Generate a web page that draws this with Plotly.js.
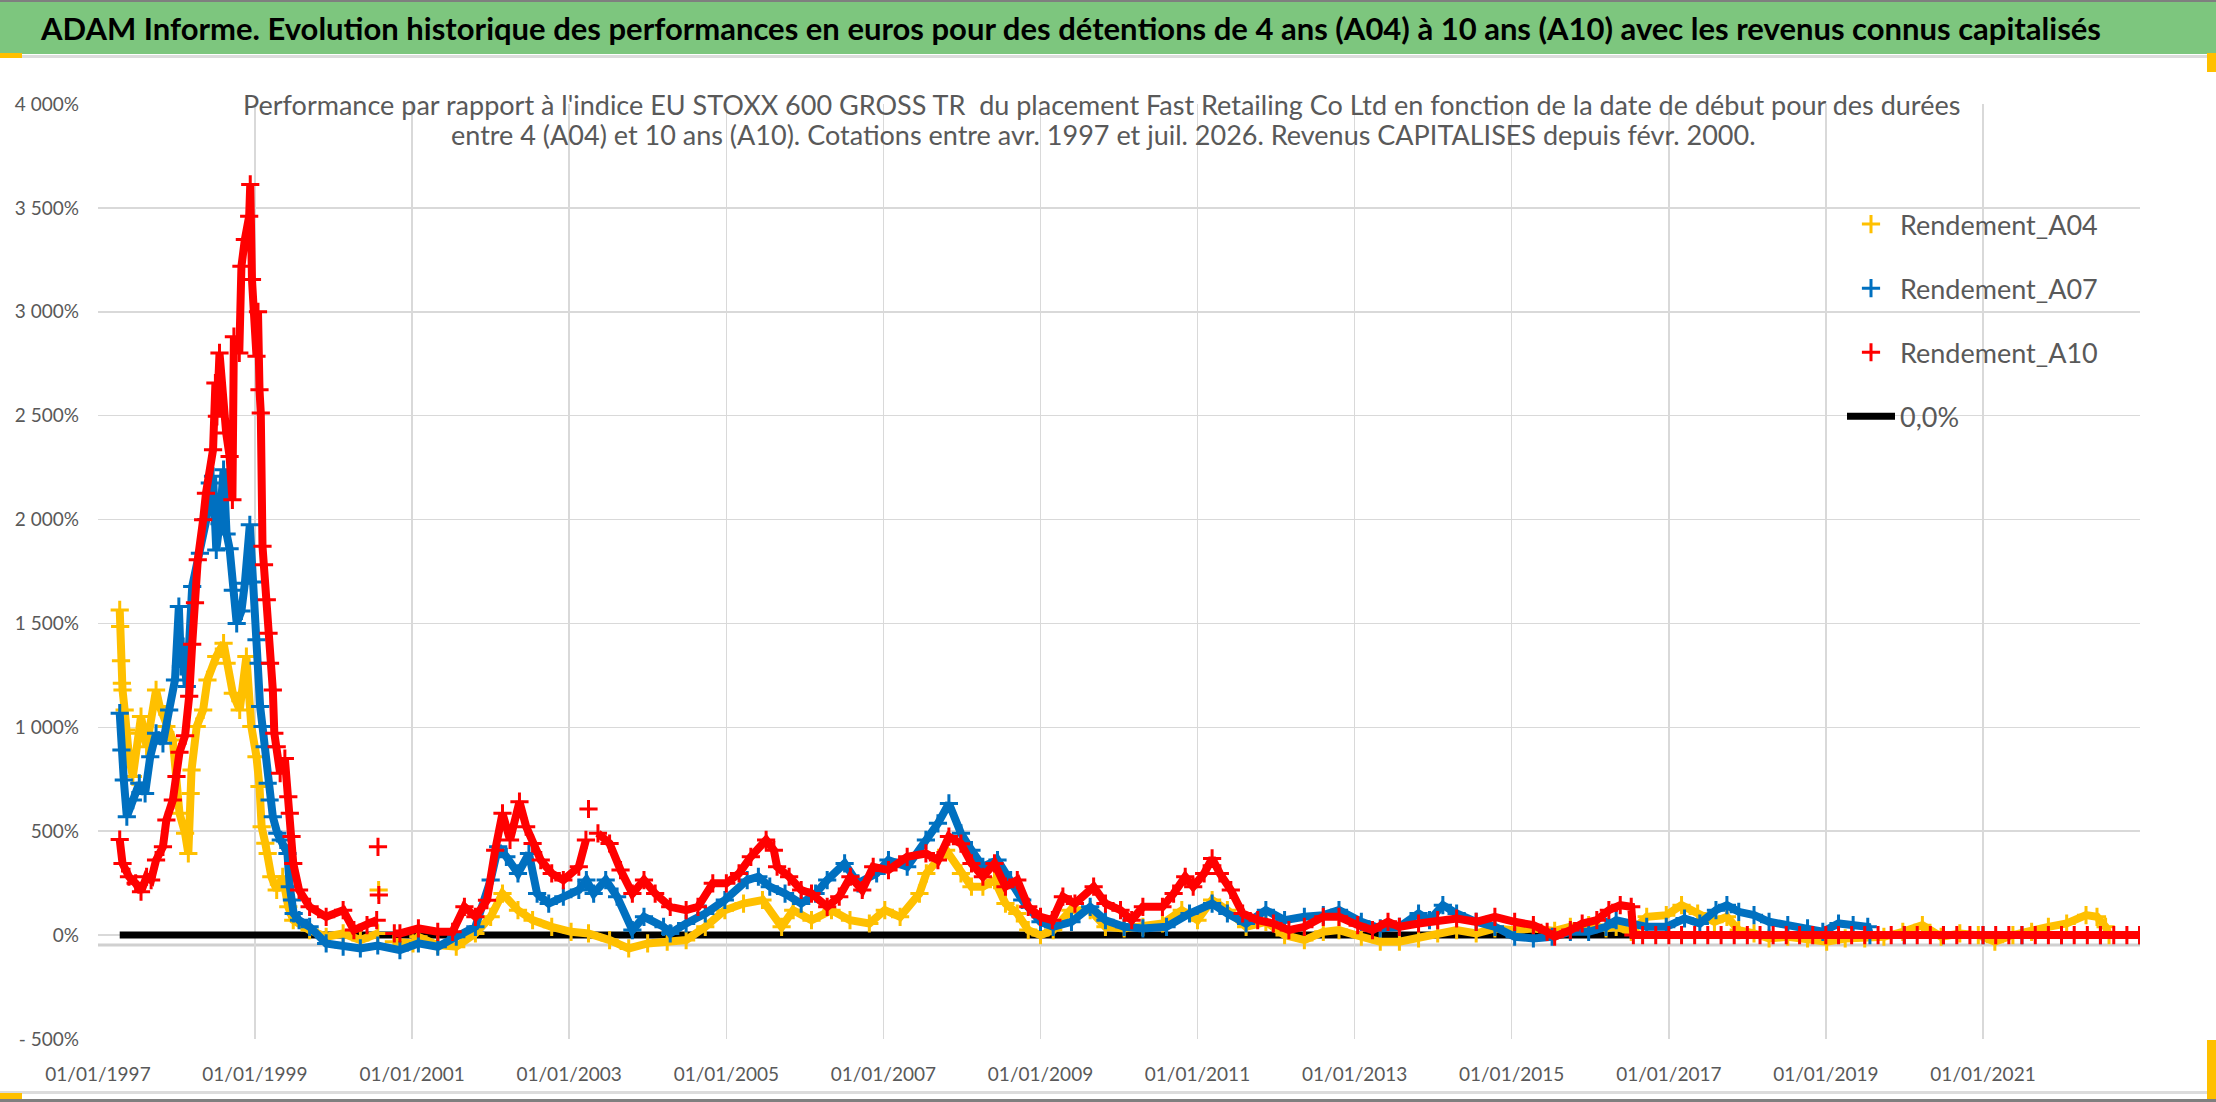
<!DOCTYPE html>
<html>
<head>
<meta charset="utf-8">
<script src="https://cdn.plot.ly/plotly-3.0.1.min.js"></script>
<style>
  html, body { margin: 0; padding: 0; background: #ffffff; }
  #perfPlot { width: 2216px; height: 1102px; }
</style>
</head>
<body>
<div id="perfPlot"></div>
<script>
// values, in percent
const datesA04 = [
  "1997-04-12","1997-04-14","1997-04-18","1997-04-22","1997-04-25","1997-05-05","1997-05-12","1997-05-25","1997-06-12","1997-07-12","1997-07-20","1997-08-15","1997-09-28","1997-10-15","1997-11-15","1997-12-15",
  "1998-01-15","1998-02-10","1998-02-25","1998-03-08","1998-03-12","1998-04-05","1998-05-05","1998-05-25","1998-07-05","1998-08-08","1998-08-22","1998-09-20","1998-10-22","1998-11-22","1998-12-15",
  "1999-01-08","1999-01-22","1999-02-01","1999-02-18","1999-03-01","1999-03-18","1999-04-12","1999-05-10","1999-06-05","1999-06-28","1999-09-12","1999-11-28",
  "2000-02-15","2000-05-05","2000-07-25","2000-07-27","2000-07-29","2000-07-31","2000-10-08",
  "2001-01-05","2001-01-30","2001-04-30","2001-07-25","2001-10-22",
  "2002-01-01","2002-02-25","2002-05-08","2002-07-15","2002-10-12",
  "2003-01-10","2003-04-01","2003-07-08","2003-10-05",
  "2004-01-01","2004-04-01","2004-06-28","2004-09-25","2004-12-25",
  "2005-03-22","2005-06-18","2005-09-15","2005-11-08",
  "2006-02-01","2006-05-05","2006-07-30","2006-10-28",
  "2007-01-08","2007-03-20","2007-06-18","2007-07-20","2007-10-20","2007-12-28",
  "2008-02-15","2008-04-08","2008-06-01","2008-07-22","2008-09-15","2008-11-05",
  "2009-01-01","2009-03-01","2009-05-20","2009-08-20","2009-10-30",
  "2010-01-25","2010-04-22","2010-07-22","2010-10-20",
  "2011-01-01","2011-03-10","2011-05-20","2011-08-15","2011-11-15",
  "2012-02-10","2012-05-12","2012-08-08","2012-10-20",
  "2013-02-01","2013-04-30","2013-07-28","2013-10-25",
  "2014-01-22","2014-04-20","2014-07-20","2014-10-15",
  "2015-01-15","2015-04-12","2015-07-20","2015-10-01","2015-12-25",
  "2016-03-15","2016-05-01","2016-07-10","2016-09-20","2016-12-20",
  "2017-03-01","2017-05-15","2017-08-01","2017-09-28","2017-11-22",
  "2018-02-01","2018-04-12","2018-07-08","2018-10-08",
  "2019-01-05","2019-04-01","2019-07-01","2019-09-28","2019-12-25",
  "2020-03-25","2020-06-20","2020-09-15","2020-12-10",
  "2021-02-25","2021-05-20","2021-08-15","2021-11-01",
  "2022-01-25","2022-04-25","2022-06-15","2022-07-25","2022-08-10","2022-12-30"
];
const valsA04 = [
  1565,1485,1320,1212,1180,1084,987,859,763,971,1052,907,1180,1100,1004,939,
  586,490,393,682,795,1004,1084,1228,1341,1405,1309,1164,1084,1341,1004,
  859,715,522,442,393,281,217,281,136,72,24,-8,
  8,-24,8,null,217,null,-32,
  -40,-8,-48,-56,8,
  88,200,120,72,40,
  16,8,-24,-64,
  -40,-32,-24,40,120,
  152,169,40,120,
  72,120,72,56,
  120,88,200,297,409,297,
  233,233,265,152,104,24,
  0,24,120,120,40,
  32,40,56,120,
  72,169,120,40,64,
  0,-24,16,24,
  -8,-32,-32,-16,
  8,24,8,32,
  24,32,20,40,48,
  32,40,16,88,96,
  144,104,64,88,24,
  8,-16,-8,-16,
  -32,-16,-16,-8,16,
  48,-8,8,0,
  -32,0,16,40,
  56,96,88,40,0,0
];

const datesA07 = [
  "1997-04-12","1997-04-20","1997-05-01","1997-05-15","1997-06-12","1997-07-12","1997-08-08","1997-09-01","1997-09-28","1997-10-30","1997-11-28","1997-12-25",
  "1998-01-12","1998-01-22","1998-02-01","1998-02-18","1998-03-15","1998-04-20","1998-05-20","1998-06-05","1998-06-20","1998-07-05","1998-07-20","1998-08-08","1998-08-22","1998-09-05","1998-09-20","1998-10-08","1998-10-30","1998-11-15","1998-12-08","1998-12-22",
  "1999-01-08","1999-01-18","1999-01-25","1999-02-05","1999-02-15","1999-03-01","1999-03-10","1999-03-25","1999-04-15","1999-05-01","1999-06-01","1999-06-12","1999-06-22","1999-06-30","1999-07-25","1999-09-12","1999-11-28",
  "2000-02-15","2000-05-05","2000-07-25","2000-11-05",
  "2001-01-30","2001-04-30","2001-07-25","2001-10-22",
  "2002-01-01","2002-02-05","2002-03-15","2002-05-08","2002-06-28","2002-08-05","2002-09-28","2002-12-05",
  "2003-02-15","2003-03-22","2003-04-25","2003-06-20","2003-08-12","2003-10-22","2003-12-15",
  "2004-03-15","2004-04-15","2004-06-28","2004-09-25","2004-12-25",
  "2005-04-08","2005-05-30","2005-07-22","2005-10-01","2005-12-15",
  "2006-02-20","2006-04-15","2006-07-05","2006-09-05","2006-12-01",
  "2007-01-25","2007-04-22","2007-07-18","2007-09-12","2007-11-02","2007-12-28",
  "2008-02-15","2008-04-08","2008-06-15","2008-08-15","2008-10-08",
  "2009-01-01","2009-03-01","2009-05-25","2009-08-20","2009-10-30",
  "2010-01-25","2010-04-22","2010-08-10","2010-11-25",
  "2011-03-10","2011-05-20","2011-08-15","2011-11-15",
  "2012-02-10","2012-05-12","2012-08-08","2012-10-20",
  "2013-02-01","2013-04-30","2013-07-28","2013-10-25","2013-12-15",
  "2014-02-15","2014-04-20","2014-07-20","2014-10-15",
  "2015-01-15","2015-04-12","2015-07-08","2015-10-01","2015-12-25",
  "2016-03-15","2016-05-01","2016-07-10","2016-09-20","2016-12-20",
  "2017-03-15","2017-05-25","2017-08-08","2017-09-28","2017-11-22",
  "2018-02-01","2018-04-12","2018-07-08","2018-10-08","2018-12-18",
  "2019-03-01","2019-05-08","2019-07-15","2019-07-25",
  "2020-01-01","2020-07-01","2021-01-01","2021-07-01","2022-01-01","2022-07-01","2022-12-30"
];
const valsA07 = [
  1068,891,747,570,650,731,682,859,971,923,1084,1228,
  1581,1293,1389,1196,1678,1838,2000,2176,2208,1854,1980,2240,1930,1860,1660,1500,1560,1694,1975,1700,
  1421,1309,1100,1004,907,731,650,570,490,458,393,233,169,104,72,40,-40,
  -56,-64,-50,-72,
  -40,-56,-8,40,
  265,425,377,297,393,200,152,185,
  217,265,200,265,185,24,88,
  40,8,56,104,169,
  265,281,233,200,152,
  200,265,345,249,297,
  361,329,458,538,634,490,
  409,329,361,265,169,
  64,40,64,136,72,
  40,32,40,104,
  152,104,56,120,
  72,88,96,120,
  64,32,40,104,72,
  144,104,64,40,
  -8,-16,-8,16,16,
  40,72,56,40,40,
  80,56,120,144,112,
  96,64,48,32,16,
  56,48,40,0,
  0,0,0,0,0,0,0
];

const datesA10 = [
  "1997-04-12","1997-04-25","1997-05-25","1997-06-25","1997-07-20","1997-08-15","1997-09-05","1997-09-28","1997-10-30","1997-11-15","1997-12-15",
  "1998-01-01","1998-01-15","1998-02-10","1998-03-01","1998-03-15","1998-03-28","1998-04-10","1998-05-05","1998-05-18","1998-06-20","1998-07-01","1998-07-08","1998-07-20","1998-08-20","1998-09-05","1998-09-18","1998-09-25","1998-10-20","1998-10-30","1998-11-15","1998-12-05","1998-12-10","1998-12-18",
  "1999-01-08","1999-01-15","1999-01-22","1999-01-28","1999-02-05","1999-02-12","1999-02-25","1999-03-05","1999-03-12","1999-03-25","1999-04-01","1999-04-12","1999-04-28","1999-05-20","1999-06-05","1999-06-12","1999-06-20","1999-06-28","1999-07-25","1999-09-12","1999-11-28",
  "2000-02-15","2000-04-05","2000-06-05","2000-07-20","2000-07-24","2000-07-26","2000-07-28","2000-07-30","2000-08-01","2000-10-10","2000-11-05",
  "2001-01-30","2001-04-30","2001-07-08","2001-09-01","2001-10-22","2001-12-15",
  "2002-01-22","2002-02-25","2002-04-01","2002-05-15","2002-06-15","2002-07-15","2002-08-22","2002-10-12","2002-12-05",
  "2003-02-15","2003-03-20","2003-03-26","2003-04-01","2003-04-06","2003-05-15","2003-07-08","2003-08-28","2003-10-22","2003-12-15",
  "2004-02-05","2004-04-15","2004-06-28","2004-08-22","2004-10-30",
  "2005-01-01","2005-03-01","2005-04-25","2005-07-05","2005-08-10","2005-08-25","2005-10-20","2005-12-15",
  "2006-02-01","2006-04-15","2006-06-10","2006-08-01","2006-09-25","2006-11-15",
  "2007-01-25","2007-04-22","2007-07-18","2007-09-12","2007-11-02","2007-12-28",
  "2008-02-15","2008-04-08","2008-06-01","2008-07-22","2008-09-15","2008-11-05",
  "2009-01-01","2009-02-25","2009-04-15","2009-06-10","2009-09-05","2009-10-30",
  "2010-01-08","2010-03-01","2010-04-22","2010-07-22","2010-09-12","2010-11-05","2010-12-12",
  "2011-02-01","2011-03-10","2011-04-15","2011-06-05","2011-07-30","2011-10-08","2011-12-20",
  "2012-03-01","2012-05-12","2012-08-08","2012-10-20",
  "2013-01-15","2013-03-25","2013-06-05","2013-07-28","2013-10-25",
  "2014-01-22","2014-04-20","2014-07-20","2014-10-15",
  "2015-01-15","2015-04-12","2015-06-15","2015-07-20","2015-10-01","2015-11-25",
  "2016-02-01","2016-03-28","2016-05-20","2016-07-10","2016-07-20",
  "2016-09-01","2016-11-01","2017-01-01","2017-03-01","2017-05-01","2017-07-01","2017-09-01","2017-11-01",
  "2018-01-01","2018-03-01","2018-05-01","2018-07-01","2018-09-01","2018-11-01",
  "2019-01-01","2019-03-01","2019-05-01","2019-07-01","2019-09-01","2019-11-01",
  "2020-01-01","2020-03-01","2020-05-01","2020-07-01","2020-09-01","2020-11-01",
  "2021-01-01","2021-03-01","2021-05-01","2021-07-01","2021-09-01","2021-11-01",
  "2022-01-01","2022-03-01","2022-05-01","2022-07-01","2022-09-01","2022-11-01","2022-12-30"
];
const valsA10 = [
  460,345,281,249,209,281,265,361,425,554,650,
  763,880,960,1150,1400,1600,1806,1999,2127,2336,2657,2497,2802,2417,2304,2095,2880,2802,3219,3348,3460,3613,3155,
  2786,3000,2625,2513,1871,1782,1614,1453,1309,1180,971,907,779,850,666,586,474,345,217,136,88,
  120,24,48,72,null,425,null,193,null,8,8,
  32,16,16,136,88,168,
  409,586,458,642,522,441,361,297,265,
  329,458,null,607,null,490,441,313,200,265,
  200,136,120,136,249,
  249,297,377,458,409,329,281,217,
  200,136,185,281,217,329,
  313,377,393,361,474,440,
  345,281,345,233,265,136,
  88,72,185,152,233,152,
  120,72,136,136,200,281,233,
  297,369,297,217,104,72,56,
  24,40,88,88,
  48,24,64,40,56,
  72,80,64,88,
  64,48,16,-8,24,56,
  72,120,144,136,0,
  0,0,0,0,0,0,0,0,
  0,0,0,0,0,0,
  0,0,0,0,0,0,
  0,0,0,0,0,0,
  0,0,0,0,0,0,
  0,0,0,0,0,0,0
];

const datesZero = ["1997-04-12", "2022-12-30"];
const valsZero = [0, 0];

const seriesNames = ["Rendement_A04", "Rendement_A07", "Rendement_A10", "0,0%"];
const seriesColors = ["#FFC000", "#0070C0", "#FF0000", "#000000"];

const yTickVals = [-500, 0, 500, 1000, 1500, 2000, 2500, 3000, 3500, 4000];
const yTickText = ["- 500%", "0%", "500%", "1 000%", "1 500%", "2 000%", "2 500%", "3 000%", "3 500%", "4 000%"];
const xTickVals = ["1997-01-01","1999-01-01","2001-01-01","2003-01-01","2005-01-01","2007-01-01","2009-01-01","2011-01-01","2013-01-01","2015-01-01","2017-01-01","2019-01-01","2021-01-01"];
const xTickText = ["01/01/1997","01/01/1999","01/01/2001","01/01/2003","01/01/2005","01/01/2007","01/01/2009","01/01/2011","01/01/2013","01/01/2015","01/01/2017","01/01/2019","01/01/2021"];

const mainTitle = "ADAM Informe. Evolution historique des performances en euros pour des détentions de 4 ans (A04) à 10 ans (A10) avec les revenus connus capitalisés";
const subTitle1 = "Performance par rapport à l'indice EU STOXX 600 GROSS TR  du placement Fast Retailing Co Ltd en fonction de la date de début pour des durées";
const subTitle2 = "entre 4 (A04) et 10 ans (A10). Cotations entre avr. 1997 et juil. 2026. Revenus CAPITALISES depuis févr. 2000.";

// page geometry (pixels)
const W = 2216, H = 1102;
const M = { l: 98, r: 76, t: 104, b: 63 };
const px = (x) => (x - M.l) / (W - M.l - M.r);
const py = (y) => (H - M.b - y) / (H - M.t - M.b);

const FONT = "Lato, 'Open Sans', sans-serif";
const GREY_TXT = "#595959";

function bandTrace(x, y, i) {
  return {
    x: x, y: y, type: "scatter", mode: "lines",
    line: { color: seriesColors[i], width: 8 },
    legendgroup: "g" + i, showlegend: false, hoverinfo: "skip",
  };
}

function crossTrace(x, y, i) {
  return {
    x: x, y: y, type: "scatter", mode: "markers",
    name: seriesNames[i],
    marker: {
      symbol: "cross-thin", size: 13, color: seriesColors[i],
      line: { color: seriesColors[i], width: 3 },
    },
    legendgroup: "g" + i, legendrank: i + 1,
  };
}

var cb_perfPlot = function () {
  let zeroTrace = {
    x: datesZero, y: valsZero, type: "scatter", mode: "lines",
    name: seriesNames[3],
    line: { color: seriesColors[3], width: 7 },
    legendgroup: "g3", legendrank: 4,
  };

  let data = [
    zeroTrace,
    bandTrace(datesA04, valsA04, 0), crossTrace(datesA04, valsA04, 0),
    bandTrace(datesA07, valsA07, 1), crossTrace(datesA07, valsA07, 1),
    bandTrace(datesA10, valsA10, 2), crossTrace(datesA10, valsA10, 2),
  ];

  let layout = {
    width: W, height: H,
    margin: { l: M.l, r: M.r, t: M.t, b: M.b, pad: 0 },
    paper_bgcolor: "#ffffff",
    plot_bgcolor: "#ffffff",
    font: { family: FONT, color: GREY_TXT },

    title: {
      text: mainTitle,
      font: { family: FONT, size: 31, color: "#000000", weight: "bold" },
      xref: "container", yref: "container",
      x: 1071 / W, y: 1 - 29 / H, xanchor: "center", yanchor: "middle",
    },

    // Legende
    showlegend: true,
    legend: {
      x: px(1842), y: py(200), xanchor: "left", yanchor: "top",
      bgcolor: "rgba(0,0,0,0)",
      font: { family: FONT, size: 27, color: GREY_TXT },
      itemwidth: 48,
      traceorder: "grouped", tracegroupgap: 26,
    },

    xaxis: {
      type: "date",
      range: ["1997-01-01", "2023-01-01"],
      tickvals: xTickVals, ticktext: xTickText,
      tickfont: { family: FONT, size: 19, color: GREY_TXT },
      ticks: "", ticklabelstandoff: 22,
      showgrid: true, gridcolor: "#d9d9d9", gridwidth: 1.5,
      zeroline: false, showline: false,
    },
    yaxis: {
      range: [-500, 4000],
      tickvals: yTickVals, ticktext: yTickText,
      tickfont: { family: FONT, size: 19, color: GREY_TXT },
      ticks: "", ticklabelstandoff: 18,
      showgrid: true, gridcolor: "#d9d9d9", gridwidth: 1.5,
      zeroline: false, showline: false,
    },

    shapes: [
      // frame and banner
      { type: "rect", xref: "paper", yref: "paper", x0: px(0), x1: px(W), y0: py(54), y1: py(2), fillcolor: "#7DC67E", line: { width: 0 }, layer: "below" },
      { type: "rect", xref: "paper", yref: "paper", x0: px(0), x1: px(W), y0: py(2), y1: py(0), fillcolor: "#7f7f7f", line: { width: 0 } },
      { type: "rect", xref: "paper", yref: "paper", x0: px(0), x1: px(W), y0: py(58), y1: py(55), fillcolor: "#dcdcdc", line: { width: 0 } },
      { type: "rect", xref: "paper", yref: "paper", x0: px(0), x1: px(W), y0: py(1094), y1: py(1091), fillcolor: "#dcdcdc", line: { width: 0 } },
      { type: "rect", xref: "paper", yref: "paper", x0: px(0), x1: px(W), y0: py(H), y1: py(1099), fillcolor: "#7f7f7f", line: { width: 0 } },
      // selection handles
      { type: "rect", xref: "paper", yref: "paper", x0: px(0), x1: px(22), y0: py(58), y1: py(53), fillcolor: "#FFC000", line: { width: 0 } },
      { type: "rect", xref: "paper", yref: "paper", x0: px(2207), x1: px(W), y0: py(72), y1: py(53), fillcolor: "#FFC000", line: { width: 0 } },
      { type: "rect", xref: "paper", yref: "paper", x0: px(0), x1: px(22), y0: py(1099), y1: py(1093), fillcolor: "#FFC000", line: { width: 0 } },
      { type: "rect", xref: "paper", yref: "paper", x0: px(2207), x1: px(W), y0: py(1099), y1: py(1040), fillcolor: "#FFC000", line: { width: 0 } },
      // horizontal axis line, a little under the 0% level
      { type: "line", xref: "paper", yref: "y", x0: 0, x1: 1, y0: -48, y1: -48, line: { color: "#d0d0d0", width: 3 }, layer: "between" },
      // white boxes behind subtitle and legend
      { type: "rect", xref: "paper", yref: "paper", x0: px(240), x1: px(1963), y0: py(168), y1: py(64), fillcolor: "#ffffff", line: { width: 0 }, layer: "between" },
      { type: "rect", xref: "paper", yref: "paper", x0: px(1807), x1: px(2140), y0: py(450), y1: py(193), fillcolor: "#ffffff", line: { width: 0 }, layer: "between" },
    ],

    annotations: [
      { text: subTitle1, xref: "paper", yref: "paper", x: px(1101), y: py(104), xanchor: "center", yanchor: "middle", showarrow: false, font: { family: FONT, size: 27, color: GREY_TXT } },
      { text: subTitle2, xref: "paper", yref: "paper", x: px(1103), y: py(134), xanchor: "center", yanchor: "middle", showarrow: false, font: { family: FONT, size: 27, color: GREY_TXT } },
    ],
  };
  // end layout

  let config = { responsive: false, displayModeBar: false, staticPlot: true };

  Plotly.newPlot("perfPlot", data, layout, config);
};

if (document.readyState === "complete" || document.readyState !== "loading") {
  cb_perfPlot();
} else {
  document.addEventListener("DOMContentLoaded", cb_perfPlot);
}
</script>
</body>
</html>
